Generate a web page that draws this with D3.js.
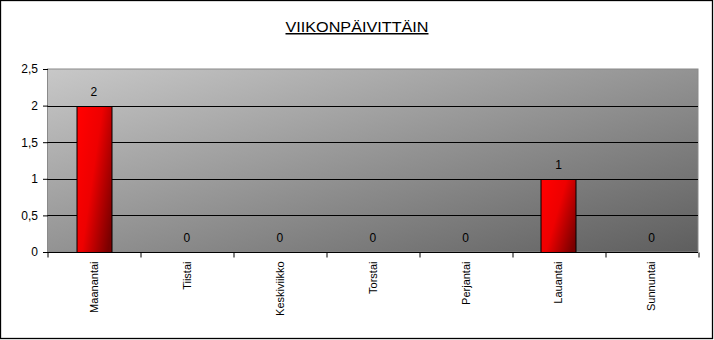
<!DOCTYPE html>
<html>
<head>
<meta charset="utf-8">
<script src="https://cdn.jsdelivr.net/npm/d3@7"></script>
<style>
  body { margin: 0; background: #fff; }
  svg text { font-family: "Liberation Sans", Arial, sans-serif; }
</style>
</head>
<body>
<div id="chart"></div>
<script>
const title = 'VIIKONPÄIVITTÄIN';
const days = ['Maanantai', 'Tiistai', 'Keskiviikko', 'Torstai', 'Perjantai', 'Lauantai', 'Sunnuntai'];
const counts = [2, 0, 0, 0, 0, 1, 0];
const yTicks = [0, 0.5, 1, 1.5, 2, 2.5];

const W = 714, H = 340;
const margin = { top: 69, right: 16, bottom: 88, left: 47.5 };

let svg = d3.select('#chart').append('svg')
  .attr('width', W).attr('height', H);

// outer frame
svg.append('rect')
  .attr('x', 0.5).attr('y', 0.5)
  .attr('width', W - 2).attr('height', H - 2)
  .attr('fill', '#fff').attr('stroke', '#000').attr('stroke-width', 1.3);

let defs = svg.append('defs');
let bg = defs.append('linearGradient').attr('id', 'plotbg')
  .attr('x1', 0).attr('y1', 0).attr('x2', 1).attr('y2', 1);
bg.append('stop').attr('offset', '0%').attr('stop-color', '#c8c8c8');
bg.append('stop').attr('offset', '100%').attr('stop-color', '#5e5e5e');

let barg = defs.append('linearGradient').attr('id', 'bargrad')
  .attr('x1', 0).attr('y1', 0.2).attr('x2', 1).attr('y2', 0.8);
barg.append('stop').attr('offset', '0%').attr('stop-color', '#ff0000');
barg.append('stop').attr('offset', '45%').attr('stop-color', '#ee0000');
barg.append('stop').attr('offset', '100%').attr('stop-color', '#7a0000');

let w = W - margin.left - margin.right,
    h = H - margin.top - margin.bottom;

let x = d3.scaleBand().domain(days).range([0, w]).paddingInner(0.62).paddingOuter(0.31);
let xb = d3.scaleBand().domain(days).range([0, w]);
let y = d3.scaleLinear().domain([0, 2.5]).range([h, 0]);

let g = svg.append('g').attr('transform', `translate(${margin.left},${margin.top})`);

g.append('rect')
  .attr('width', w).attr('height', h)
  .attr('fill', 'url(#plotbg)')
  .attr('stroke', '#8a8a8a');

// gridlines
g.append('g').selectAll('line')
  .data(yTicks.filter(d => d > 0 && d < 2.5))
  .enter().append('line')
  .attr('x1', 0).attr('x2', w)
  .attr('y1', d => Math.round(y(d)) + 0.5).attr('y2', d => Math.round(y(d)) + 0.5)
  .attr('stroke', '#000');

// bars
g.append('g').selectAll('rect')
  .data(days.map((d, i) => ({ day: d, v: counts[i] })).filter(d => d.v > 0))
  .enter().append('rect')
  .attr('x', d => Math.round(x(d.day)) + 0.5)
  .attr('y', d => Math.round(y(d.v)) + 0.5)
  .attr('width', Math.round(x.bandwidth()))
  .attr('height', d => Math.round(y(0)) - Math.round(y(d.v)))
  .attr('fill', 'url(#bargrad)')
  .attr('stroke', '#000');

// value labels
g.append('g').selectAll('text')
  .data(days.map((d, i) => ({ day: d, v: counts[i] })))
  .enter().append('text')
  .attr('x', d => xb(d.day) + xb.bandwidth() / 2)
  .attr('y', d => y(d.v) - 10)
  .attr('text-anchor', 'middle')
  .attr('font-size', 12)
  .attr('fill', '#000')
  .text(d => d.v);

// y axis
let yAxis = d3.axisLeft(y).tickValues(yTicks).tickSize(5).tickPadding(5)
  .tickFormat(d => String(d).replace('.', ','));
let ya = g.append('g').attr('transform', 'translate(0.5,0)').call(yAxis);
ya.select('.domain').remove();
ya.selectAll('text').attr('font-size', 12).attr('font-family', '"Liberation Sans", Arial, sans-serif');

// x axis
let xAxis = d3.axisBottom(xb).tickSize(0).tickPadding(0);
let xa = g.append('g').attr('transform', `translate(0,${Math.round(h) + 0.5})`).call(xAxis);
xa.select('.domain').attr('d', `M0,0H${w}`).attr('stroke', '#000');
xa.selectAll('.tick text')
  .attr('font-size', 11)
  .attr('font-family', '"Liberation Sans", Arial, sans-serif')
  .attr('text-anchor', 'end')
  .attr('transform', 'rotate(-90)')
  .attr('x', -9).attr('y', 0).attr('dy', '0.35em');
// tick marks at category boundaries
xa.append('g').selectAll('line')
  .data(d3.range(days.length + 1))
  .enter().append('line')
  .attr('x1', i => Math.round(i * xb.step()) + 0.5).attr('x2', i => Math.round(i * xb.step()) + 0.5)
  .attr('y1', 0).attr('y2', 5)
  .attr('stroke', '#000');

// title
svg.append('text')
  .attr('x', W / 2).attr('y', 32)
  .attr('text-anchor', 'middle')
  .attr('font-size', 15)
  .attr('textLength', 143)
  .attr('lengthAdjust', 'spacingAndGlyphs')
  .attr('text-decoration', 'underline')
  .text(title);
</script>
</body>
</html>
